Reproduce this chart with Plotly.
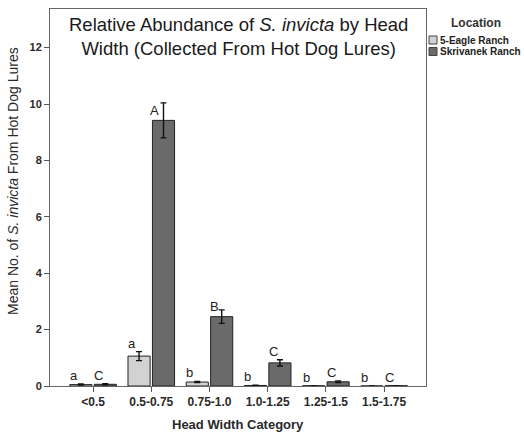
import plotly.graph_objects as go

categories = ["<0.5", "0.5-0.75", "0.75-1.0", "1.0-1.25", "1.25-1.5", "1.5-1.75"]
five_eagle = [0.05, 1.06, 0.14, 0.02, 0.01, 0.0]
five_eagle_err = [0.02, 0.16, 0.02, 0.01, 0.0, 0.0]
skrivanek = [0.06, 9.42, 2.46, 0.82, 0.15, 0.01]
skrivanek_err = [0.02, 0.62, 0.24, 0.11, 0.03, 0.0]
five_eagle_letters = ["a", "a", "b", "b", "b", "b"]
skrivanek_letters = ["C", "A", "B", "C", "C", "C"]
series_names = ["5-Eagle Ranch", "Skrivanek Ranch"]
y_ticks = [0, 2, 4, 6, 8, 10, 12]

FONT = "Liberation Sans, Arial, sans-serif"
C_LIGHT = "#d2d2d2"
C_DARK = "#6a6a6a"
W = 0.38
OFF = [-0.40, 0.02]

L, R, T, B = 50, 98, 9, 48
WIDTH, HEIGHT = 524, 434
PW, PH = WIDTH - L - R, HEIGHT - T - B


def px(x):
    return (x - L) / PW


def py(y):
    return (HEIGHT - B - y) / PH


xs = list(range(len(categories)))
fig = go.Figure()
for vals, errs, color, off, name in [
    (five_eagle, five_eagle_err, C_LIGHT, OFF[0], series_names[0]),
    (skrivanek, skrivanek_err, C_DARK, OFF[1], series_names[1]),
]:
    fig.add_trace(go.Bar(
        x=xs, y=vals, width=W, offset=off, name=name,
        marker=dict(color=color, line=dict(color="#222", width=1)),
        error_y=dict(type="data", array=errs, visible=True, color="#111", thickness=1.4, width=3),
        showlegend=False,
    ))

annotations = []
# significance letters
shifts_l = [-1] * 6
shifts_r = [-1, -17, -6, -1, -1, -1]
xsh_r = [-2, -4, -3, -2, -2, -2]
for i in xs:
    annotations.append(dict(x=i + OFF[0], y=five_eagle[i] + five_eagle_err[i], text=five_eagle_letters[i],
                            xanchor="left", yanchor="bottom", xshift=-2, yshift=shifts_l[i], showarrow=False,
                            font=dict(family=FONT, size=13, color="#222")))
    annotations.append(dict(x=i + OFF[1], y=skrivanek[i] + skrivanek_err[i], text=skrivanek_letters[i],
                            xanchor="left", yanchor="bottom", xshift=xsh_r[i], yshift=shifts_r[i], showarrow=False,
                            font=dict(family=FONT, size=13, color="#222")))

# title inside plot
annotations.append(dict(xref="paper", yref="paper", x=0.5, y=py(12), xanchor="center", yanchor="top",
                        text="Relative Abundance of <i>S. invicta</i> by Head<br>Width (Collected From Hot Dog Lures)",
                        showarrow=False, font=dict(family=FONT, size=18.5, color="#1a1a1a")))
# y axis title
annotations.append(dict(xref="paper", yref="paper", x=px(13), y=py(181), xanchor="center", yanchor="middle",
                        textangle=-90, text="Mean No. of <i>S. invicta</i> From Hot Dog Lures",
                        showarrow=False, font=dict(family=FONT, size=14, color="#2a2a2a")))
# x axis title
annotations.append(dict(xref="paper", yref="paper", x=0.5, y=py(424), xanchor="center", yanchor="middle",
                        text="Head Width Category", showarrow=False,
                        font=dict(family=FONT, size=13, color="#2a2a2a", weight="bold")))
# manual legend
annotations.append(dict(xref="paper", yref="paper", x=px(476), y=py(23), xanchor="center", yanchor="middle",
                        text="Location", showarrow=False, font=dict(family=FONT, size=12, color="#333", weight="bold")))
shapes = []
for k, (color, yc) in enumerate([(C_LIGHT, 40), (C_DARK, 51.5)]):
    shapes.append(dict(type="rect", xref="paper", yref="paper", x0=px(429), x1=px(437), y0=py(yc - 4), y1=py(yc + 4),
                       fillcolor=color, line=dict(color="#444", width=1)))
    annotations.append(dict(xref="paper", yref="paper", x=px(438), y=py(yc), xanchor="left", yanchor="middle",
                            text=series_names[k], showarrow=False,
                            font=dict(family=FONT, size=10, color="#222", weight="bold")))

fig.update_layout(
    width=WIDTH, height=HEIGHT,
    margin=dict(l=L, r=R, t=T, b=B),
    paper_bgcolor="white", plot_bgcolor="white",
    barmode="overlay",
    annotations=annotations, shapes=shapes,
    showlegend=False,
    xaxis=dict(range=[-0.74, 5.72], tickvals=xs, ticktext=categories, ticks="outside", ticklen=5,
               tickcolor="#555", showline=True, linecolor="#666", linewidth=1, mirror=True,
               showgrid=False, zeroline=False,
               tickfont=dict(family=FONT, size=12, color="#2a2a2a", weight="bold")),
    yaxis=dict(range=[0, 13.37], tickvals=y_ticks, ticks="outside", ticklen=5, tickcolor="#555",
               showline=True, linecolor="#666", linewidth=1, mirror=True, showgrid=False, zeroline=False,
               tickfont=dict(family=FONT, size=11, color="#2a2a2a", weight="bold")),
)

fig.write_html("out.html")
